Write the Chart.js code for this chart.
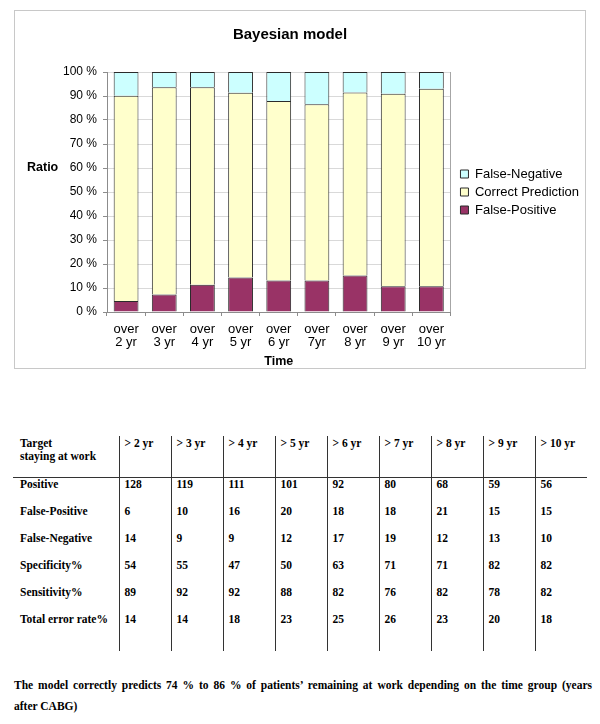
<!DOCTYPE html>
<html><head><meta charset="utf-8">
<script src="https://cdn.jsdelivr.net/npm/chart.js@4.4.0/dist/chart.umd.min.js"></script>
<style>
html,body{margin:0;padding:0;background:#fff;width:600px;height:724px;overflow:hidden;}
#box{position:absolute;left:14px;top:10px;width:570px;height:357px;border:1px solid #c8c8c8;background:#fff;}
#box canvas{display:block;}
#tbl{position:absolute;left:13px;top:436px;border-collapse:collapse;table-layout:fixed;width:574px;
  font:bold 11.5px "Liberation Serif","Times New Roman",serif;color:#000;}
#tbl td{padding:0 0 0 5px;vertical-align:top;line-height:13px;white-space:nowrap;overflow:hidden;}
#tbl td.first{padding-left:7px;}
#tbl td.dc{border-left:1px solid #333;}
#tbl tr.head td{height:40px;padding-top:1px;border-bottom:1px solid #333;}
#tbl tr.row td{height:27px;}
#tbl tr.last td{height:38px;}
#cap{position:absolute;left:14px;top:675px;width:578px;font:bold 11.5px "Liberation Serif","Times New Roman",serif;line-height:21px;color:#000;}
#cap .l1{text-align:justify;text-align-last:justify;}
</style>
</head>
<body>
<div id="box"><canvas id="c"></canvas></div>
<table id="tbl"></table>
<div id="cap"><div class="l1">The model correctly predicts 74 % to 86 % of patients’ remaining at work depending on the time group (years</div><div>after CABG)</div></div>
<script>
// ---- chart data ----
const categories = [['over','2 yr'],['over','3 yr'],['over','4 yr'],['over','5 yr'],['over','6 yr'],['over','7yr'],['over','8 yr'],['over','9 yr'],['over','10 yr']];
const falsePositive = [4.6, 7.3, 11.4, 14.4, 13.1, 13.1, 15.2, 10.7, 10.7];
const correctPrediction = [85.5, 86.3, 82.2, 77.0, 74.8, 73.5, 76.3, 80.2, 82.3];
const falseNegative = [9.9, 6.4, 6.4, 8.6, 12.1, 13.4, 8.5, 9.1, 7.0];
const yTickLabels = ['0 %','10 %','20 %','30 %','40 %','50 %','60 %','70 %','80 %','90 %','100 %'];
const chartTitle = 'Bayesian model';
const xAxisTitle = 'Time';
const yAxisTitle = 'Ratio';

// ---- table data ----
const tableCorner = ['Target', 'staying at work'];
const tableHeaders = ['> 2 yr','> 3 yr','> 4 yr','> 5 yr','> 6 yr','> 7 yr','> 8 yr','> 9 yr','> 10 yr'];
const rowLabels = ['Positive','False-Positive','False-Negative','Specificity%','Sensitivity%','Total error rate%'];
const positive = [128,119,111,101,92,80,68,59,56];
const falsePositiveCount = [6,10,16,20,18,18,21,15,15];
const falseNegativeCount = [14,9,9,12,17,19,12,13,10];
const specificity = [54,55,47,50,63,71,71,82,82];
const sensitivity = [89,92,92,88,82,76,82,78,82];
const totalErrorRate = [14,14,18,23,25,26,23,20,18];

// build table
(function(){
  const t = document.getElementById('tbl');
  const cg = document.createElement('colgroup');
  const c0 = document.createElement('col'); c0.style.width='106px'; cg.appendChild(c0);
  tableHeaders.forEach(()=>{const c=document.createElement('col'); c.style.width='52px'; cg.appendChild(c);});
  t.appendChild(cg);
  const hr = document.createElement('tr'); hr.className='head';
  const h0 = document.createElement('td'); h0.className='first';
  h0.appendChild(document.createTextNode(tableCorner[0])); h0.appendChild(document.createElement('br'));
  h0.appendChild(document.createTextNode(tableCorner[1]));
  hr.appendChild(h0);
  tableHeaders.forEach(h=>{const d=document.createElement('td'); d.className='dc'; d.textContent=h; hr.appendChild(d);});
  t.appendChild(hr);
  const rows = [positive, falsePositiveCount, falseNegativeCount, specificity, sensitivity, totalErrorRate];
  rows.forEach((vals,i)=>{
    const tr = document.createElement('tr'); tr.className = i===rows.length-1 ? 'row last' : 'row';
    const l = document.createElement('td'); l.className='first'; l.textContent=rowLabels[i]; tr.appendChild(l);
    vals.forEach(v=>{const d=document.createElement('td'); d.className='dc'; d.textContent=v; tr.appendChild(d);});
    t.appendChild(tr);
  });
})();

Chart.defaults.font.family = '"Liberation Sans", Arial, sans-serif';
Chart.defaults.color = '#000';

const ratioLabel = {
  id:'ratioLabel',
  afterDraw(chart){
    const {ctx} = chart; const y = chart.scales.y;
    ctx.save();
    ctx.font = 'bold 12.5px "Liberation Sans", Arial, sans-serif';
    ctx.fillStyle = '#000'; ctx.textAlign = 'left'; ctx.textBaseline = 'middle';
    ctx.fillText(yAxisTitle, 12, y.getPixelForValue(60));
    ctx.restore();
  }
};
const plotBorder = {
  id:'plotBorder',
  beforeDatasetsDraw(chart){
    const {ctx, chartArea:a} = chart;
    ctx.save(); ctx.strokeStyle = '#a6a6a6'; ctx.lineWidth = 1;
    ctx.beginPath(); ctx.moveTo(Math.round(a.right)+0.5, a.top); ctx.lineTo(Math.round(a.right)+0.5, a.bottom); ctx.stroke();
    ctx.restore();
  }
};
const nudge = {
  id:'nudge',
  afterLayout(chart){
    if (chart.legend){ chart.legend.left += 5; chart.legend.right += 5; }
    if (chart.titleBlock){ chart.titleBlock.left -= 9.5; chart.titleBlock.right -= 9.5; }
  }
};

const segBorder = {top:1, left:1, right:1, bottom:0};

new Chart(document.getElementById('c'), {
  type:'bar',
  data:{
    labels:categories,
    datasets:[
      {label:'False-Positive', data:falsePositive, backgroundColor:'#993366', borderColor:'#2b2b2b', borderWidth:segBorder, borderSkipped:false},
      {label:'Correct Prediction', data:correctPrediction, backgroundColor:'#FFFFCC', borderColor:'#2b2b2b', borderWidth:segBorder, borderSkipped:false},
      {label:'False-Negative', data:falseNegative, backgroundColor:'#CCFFFF', borderColor:'#2b2b2b', borderWidth:segBorder, borderSkipped:false}
    ]
  },
  options:{
    responsive:true, maintainAspectRatio:false, animation:false,
    layout:{padding:{left:0,right:1,top:0,bottom:0}},
    datasets:{bar:{barPercentage:0.65, categoryPercentage:1}},
    plugins:{
      title:{display:true, text:chartTitle, color:'#000', font:{size:15, weight:'bold'}, padding:{top:15, bottom:28}},
      legend:{position:'right', fullSize:false, reverse:true,
        labels:{boxWidth:8, boxHeight:8, padding:5, color:'#000', font:{size:13},
          generateLabels(chart){
            const items = Chart.defaults.plugins.legend.labels.generateLabels(chart);
            items.forEach(it=>{ it.lineWidth = 1; });
            return items;
          }}},
      tooltip:{enabled:false}
    },
    scales:{
      x:{stacked:true,
        grid:{offset:true, drawOnChartArea:false, drawTicks:true, tickLength:4, color:'#8c8c8c'},
        border:{color:'#8c8c8c'},
        ticks:{color:'#000', font:{size:13, lineHeight:1}, padding:7, maxRotation:0, autoSkip:false},
        title:{display:true, text:xAxisTitle, color:'#000', font:{size:12.5, weight:'bold', lineHeight:1}, padding:{top:0, bottom:0}},
        afterFit(s){ s.height = 56; }
      },
      y:{stacked:true, min:0, max:100,
        ticks:{stepSize:10, color:'#000', font:{size:12}, padding:6, callback:(v,i)=>yTickLabels[i]},
        grid:{color:'#d9d9d9', tickColor:'#8c8c8c', tickLength:4},
        border:{color:'#8c8c8c'},
        afterFit(s){ s.width = 92; }
      }
    }
  },
  plugins:[ratioLabel, plotBorder, nudge]
});
</script>
</body></html>
